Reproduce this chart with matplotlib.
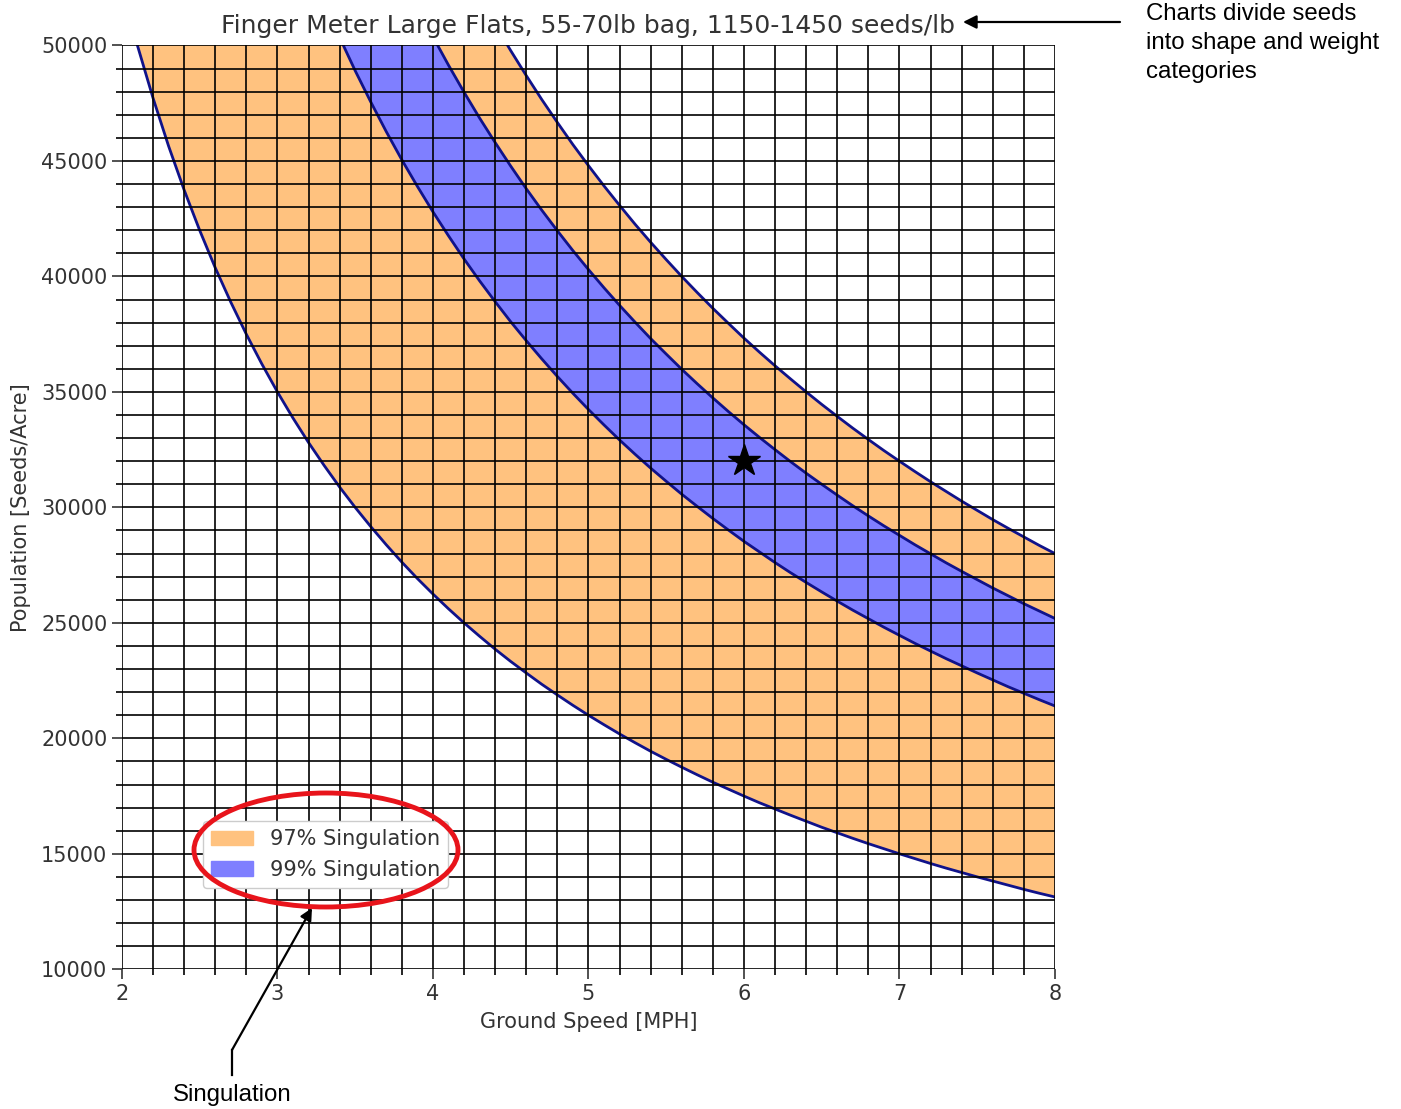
import numpy as np
import matplotlib
matplotlib.use("Agg")
import matplotlib.pyplot as plt
from matplotlib.patches import Patch, Ellipse
from matplotlib.lines import Line2D

# ground speed (MPH) and the four boundary curves (seeds/acre)
speed = [2.0, 2.1, 2.2, 2.3, 2.4, 2.5, 2.6, 2.7, 2.8, 2.9,
         3.0, 3.1, 3.2, 3.3, 3.4, 3.5, 3.6, 3.7, 3.8, 3.9,
         4.0, 4.1, 4.2, 4.3, 4.4, 4.5, 4.6, 4.7, 4.8, 4.9,
         5.0, 5.1, 5.2, 5.3, 5.4, 5.5, 5.6, 5.7, 5.8, 5.9,
         6.0, 6.1, 6.2, 6.3, 6.4, 6.5, 6.6, 6.7, 6.8, 6.9,
         7.0, 7.1, 7.2, 7.3, 7.4, 7.5, 7.6, 7.7, 7.8, 7.9, 8.0]

low97 = [52500, 50000, 47730, 45650, 43750, 42000, 40380, 38890, 37500, 36210,
         35000, 33870, 32810, 31820, 30880, 30000, 29170, 28380, 27630, 26920,
         26250, 25610, 25000, 24420, 23860, 23330, 22830, 22340, 21880, 21430,
         21000, 20590, 20190, 19810, 19440, 19090, 18750, 18420, 18100, 17800,
         17500, 17210, 16940, 16670, 16410, 16150, 15910, 15670, 15440, 15220,
         15000, 14790, 14580, 14380, 14190, 14000, 13820, 13640, 13460, 13290, 13130]
low99 = [85600, 81520, 77820, 74430, 71330, 68480, 65850, 63410, 61140, 59030,
         57070, 55230, 53500, 51880, 50350, 48910, 47560, 46270, 45050, 43900,
         42800, 41760, 40760, 39810, 38910, 38040, 37220, 36430, 35670, 34940,
         34240, 33570, 32920, 32300, 31700, 31130, 30570, 30040, 29520, 29020,
         28530, 28070, 27610, 27170, 26750, 26340, 25940, 25550, 25180, 24810,
         24460, 24110, 23780, 23450, 23140, 22830, 22530, 22230, 21950, 21670, 21400]
high99 = [100750, 95950, 91590, 87610, 83960, 80600, 77500, 74630, 71960, 69480,
          67170, 65000, 62970, 61060, 59260, 57570, 55970, 54460, 53030, 51670,
          50380, 49150, 47980, 46860, 45800, 44780, 43800, 42870, 41980, 41120,
          40300, 39510, 38750, 38020, 37310, 36640, 35980, 35350, 34740, 34150,
          33580, 33030, 32500, 31980, 31480, 31000, 30530, 30070, 29630, 29200,
          28790, 28380, 27990, 27600, 27230, 26870, 26510, 26170, 25830, 25510, 25190]
high97 = [112000, 106670, 101820, 97390, 93330, 89600, 86150, 82960, 80000, 77240,
          74670, 72260, 70000, 67880, 65880, 64000, 62220, 60540, 58950, 57440,
          56000, 54630, 53330, 52090, 50910, 49780, 48700, 47660, 46670, 45710,
          44800, 43920, 43080, 42260, 41480, 40730, 40000, 39300, 38620, 37970,
          37330, 36720, 36130, 35560, 35000, 34460, 33940, 33430, 32940, 32460,
          32000, 31550, 31110, 30690, 30270, 29870, 29470, 29090, 28720, 28350, 28000]

target_speed = 6.0
target_pop = 32000

fig = plt.figure(figsize=(14.01, 11.09), dpi=100)
ax = fig.add_axes([0.087, 0.126, 0.666, 0.833])

orange = '#FFC27F'
blue = '#7F7FFF'
ax.fill_between(speed, low97, high97, color=orange, linewidth=0)
ax.fill_between(speed, low99, high99, color=blue, linewidth=0)
for curve in [low97, low99, high99, high97]:
    ax.plot(speed, curve, color='#10128a', linewidth=2)

ax.plot(target_speed, target_pop, marker='*', color='black', markersize=24, zorder=5)

ax.set_xlim(2, 8)
ax.set_ylim(10000, 50000)
ax.set_xticks(np.arange(2, 9, 1))
ax.set_xticks(np.arange(2, 8.01, 0.2), minor=True)
ax.set_yticks(np.arange(10000, 50001, 5000))
ax.set_yticks(np.arange(10000, 50001, 1000), minor=True)
ax.grid(which='both', color='black', linewidth=1.4, alpha=0.85)
ax.set_axisbelow(False)
for s in ax.spines.values():
    s.set_visible(False)

txt = '#333333'
ax.tick_params(which='major', length=7, width=1.2, labelsize=15, colors=txt)
ax.tick_params(which='minor', length=4, width=1.2)
ax.set_title('Finger Meter Large Flats, 55-70lb bag, 1150-1450 seeds/lb',
             fontsize=18, color=txt, pad=9)
ax.set_xlabel('Ground Speed [MPH]', fontsize=15, color=txt, labelpad=6)
ax.set_ylabel('Population [Seeds/Acre]', fontsize=15, color=txt, labelpad=7)

handles = [Patch(color=orange, label='97% Singulation'),
           Patch(color=blue, label='99% Singulation')]
ax.legend(handles=handles, loc='lower left', bbox_to_anchor=(0.087, 0.088),
          borderaxespad=0, fontsize=15, framealpha=1, labelcolor=txt)

# callouts around the chart
fig.add_artist(Ellipse((326 / 1401, 1 - 850 / 1109), 264 / 1401, 114 / 1109,
                       transform=fig.transFigure, fill=False, edgecolor='#e8141b',
                       linewidth=3.5, zorder=10))
fig.add_artist(Line2D([232 / 1401, 232 / 1401], [1 - 1075 / 1109, 1 - 1050 / 1109],
                      transform=fig.transFigure, color='black', linewidth=1.6))
fig.add_artist(plt.Annotation('', xy=(312 / 1401, 1 - 908 / 1109),
                              xytext=(232 / 1401, 1 - 1050 / 1109),
                              xycoords='figure fraction', textcoords='figure fraction',
                              arrowprops=dict(arrowstyle='-|>', color='black', lw=1.6,
                                              mutation_scale=18, shrinkA=0, shrinkB=0)))
fig.text(232 / 1401, 1 - 1095 / 1109, 'Singulation', ha='center', va='center',
         fontsize=17.3, family='Liberation Sans')

fig.add_artist(plt.Annotation('', xy=(963 / 1401, 1 - 22 / 1109),
                              xytext=(1120 / 1401, 1 - 22 / 1109),
                              xycoords='figure fraction', textcoords='figure fraction',
                              arrowprops=dict(arrowstyle='-|>', color='black', lw=1.6,
                                              mutation_scale=20, shrinkA=0, shrinkB=0)))
fig.text(1146 / 1401, 1 - 3 / 1109, 'Charts divide seeds\ninto shape and weight\ncategories',
         ha='left', va='top', fontsize=17.3, family='Liberation Sans', linespacing=1.4)

fig.savefig('out.png', dpi=100)
